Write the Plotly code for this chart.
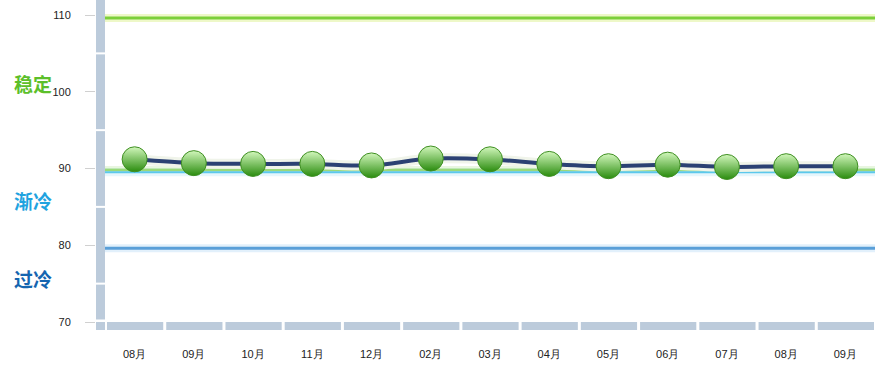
import plotly.graph_objects as go

months = ["08月", "09月", "10月", "11月", "12月", "02月", "03月", "04月", "05月", "06月", "07月", "08月", "09月"]
values = [91.2, 90.7, 90.6, 90.6, 90.4, 91.3, 91.2, 90.6, 90.3, 90.5, 90.2, 90.3, 90.3]

y_ticks = [70, 80, 90, 100, 110]
y_gaps = [75, 85, 95, 105]

# threshold lines (value, colour, width)
thr_values = [109.6, 89.8, 89.5, 79.6]
thr_colors = ["#7ccf3a", "#9ad97a", "#5cc8ec", "#5a9fd8"]
thr_glow = ["#eef8c8", "#e8f6e0", "#e6f6fc", "#e2f0fb"]

zones = ["稳定", "渐冷", "过冷"]
zone_colors = ["#5cbf2a", "#1fa3e0", "#1565b0"]
zone_y_px = [84, 200, 278]

W, H = 890, 368
L, R, T, B = 96, 15, 0, 38
px_per_unit = (322 - 15) / 40.0
y_top = 110 + 15 / px_per_unit
y_bot = 70 - 8 / px_per_unit
cat_px = (875 - 105) / len(months)
x_lo = -0.5 - 9 / cat_px
x_hi = len(months) - 0.5

band = "#bccbdb"
shapes = []
# left vertical band with white gaps
gap = 1.0 / px_per_unit
edges = [70 + 2.5 / px_per_unit] + y_gaps + [y_top]
for k in range(len(edges) - 1):
    lo = edges[k] + (gap if k > 0 else 0)
    hi = edges[k + 1] - (gap if k + 1 < len(edges) - 1 else 0)
    shapes.append(dict(type="rect", xref="x", yref="y", x0=x_lo, x1=-0.5, y0=lo, y1=hi,
                       fillcolor=band, line=dict(width=0), layer="below"))
# corner square
shapes.append(dict(type="rect", xref="x", yref="y", x0=x_lo, x1=-0.5, y0=y_bot, y1=70,
                   fillcolor=band, line=dict(width=0), layer="below"))
# bottom band segments
for i in range(len(months)):
    shapes.append(dict(type="rect", xref="x", yref="y",
                       x0=i - 0.5 + 2 / cat_px, x1=i + 0.5 - 1 / cat_px, y0=y_bot, y1=70,
                       fillcolor=band, line=dict(width=0), layer="below"))
# threshold lines
for v, c, g in zip(thr_values, thr_colors, thr_glow):
    shapes.append(dict(type="line", xref="x", yref="y", x0=-0.5, x1=x_hi, y0=v, y1=v,
                       line=dict(color=g, width=8), layer="below"))
for v, c, g in zip(thr_values, thr_colors, thr_glow):
    shapes.append(dict(type="line", xref="x", yref="y", x0=-0.5, x1=x_hi, y0=v, y1=v,
                       line=dict(color=c, width=3 if v != 89.5 else 2), layer="below"))

fig = go.Figure()
xs = list(range(len(months)))
fig.add_trace(go.Scatter(x=xs, y=values, mode="lines", line=dict(color="#f0f4ea", width=10, shape="spline", smoothing=0.8),
                         hoverinfo="skip", showlegend=False))
fig.add_trace(go.Scatter(x=xs, y=values, mode="lines", line=dict(color="#2b4173", width=4, shape="spline", smoothing=0.8),
                         hoverinfo="skip", showlegend=False))
fig.add_trace(go.Scatter(x=xs, y=values, mode="markers",
                         marker=dict(size=25, color="#d2f7bc",
                                     gradient=dict(type="vertical", color="#2a8c0e"),
                                     line=dict(color="#3f8f22", width=1)),
                         showlegend=False))

annotations = []
for z, c, yp in zip(zones, zone_colors, zone_y_px):
    annotations.append(dict(text="<b>" + z + "</b>", xref="paper", yref="paper",
                            x=(33 - L) / (W - L - R), y=1 - (yp - T) / (H - T - B),
                            showarrow=False, xanchor="center", yanchor="middle",
                            font=dict(size=19, color=c, family="Noto Sans CJK SC")))

fig.update_layout(
    width=W, height=H, margin=dict(l=L, r=R, t=T, b=B),
    paper_bgcolor="white", plot_bgcolor="white",
    shapes=shapes, annotations=annotations,
    xaxis=dict(range=[x_lo, x_hi], tickvals=xs, ticktext=months, showgrid=False, zeroline=False,
               showline=False, ticks="", ticklabelstandoff=16,
               tickfont=dict(size=11, color="#222", family="Liberation Sans")),
    yaxis=dict(range=[y_bot, y_top], tickvals=y_ticks, showgrid=False, zeroline=False,
               showline=False, ticks="outside", ticklen=10, tickcolor="#d0d0d0", tickwidth=1,
               ticklabelstandoff=12,
               tickfont=dict(size=11, color="#222", family="Liberation Sans")),
)

fig.write_html("out.html")
